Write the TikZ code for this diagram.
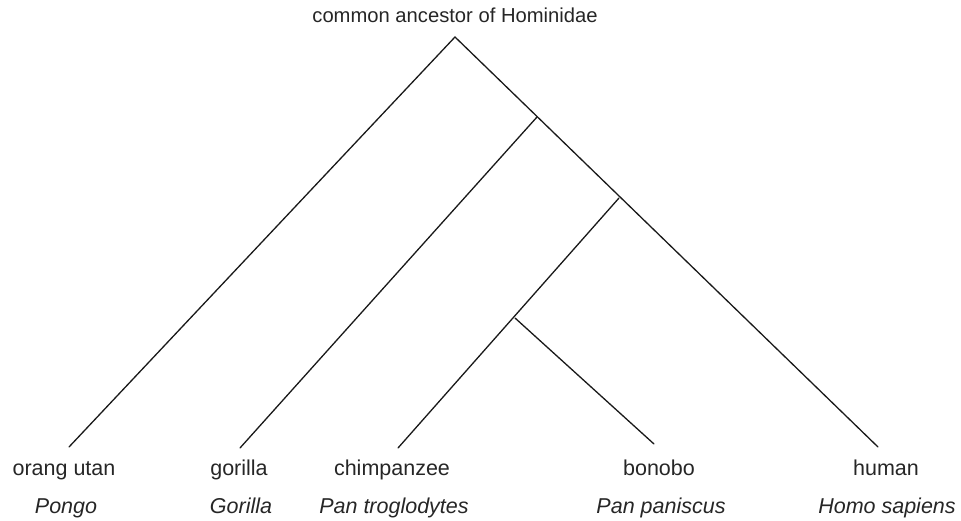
\documentclass[tikz,border=0pt]{standalone}
\usepackage{fontspec}
\setmainfont{Liberation Sans}
\usetikzlibrary{positioning}
\tikzset{branch/.style={line width=1.3pt,draw=black!90,line cap=round}}
\tikzset{taxon/.style={anchor=base,text=black!85,font=\fontsize{21.5}{25}\selectfont}}
\tikzset{latin/.style={taxon,font=\fontsize{21.5}{25}\selectfont\itshape}}

\begin{document}
\begin{tikzpicture}[x=1pt,y=-1pt]
        \useasboundingbox (0,0) rectangle (961,521);
        % ancestor and branch points
        \node[taxon,font=\fontsize{20.2}{24}\selectfont] (anc) at (455,23) {common ancestor of Hominidae};
        \coordinate (root) at (455,37);
        \coordinate (hpg) at (537,117);
        \coordinate (hp) at (619,198);
        \coordinate (pan) at (515,318);
        % tips
        \coordinate (tOrang) at (69,447);
        \coordinate (tGorilla) at (240,448);
        \coordinate (tChimp) at (398,448);
        \coordinate (tBonobo) at (654,444);
        \coordinate (tHuman) at (878,447);
        % names
        \node[taxon] (orang) at (64,475) {orang utan};
        \node[taxon] (gorilla) at (239,475) {gorilla};
        \node[taxon] (chimp) at (392,475) {chimpanzee};
        \node[taxon] (bonobo) at (659,475) {bonobo};
        \node[taxon] (human) at (886,475) {human};
        \node[latin] (pongo) at (66,513) {Pongo};
        \node[latin] (gorillaL) at (241,513) {Gorilla};
        \node[latin] (chimpL) at (394,513) {Pan troglodytes};
        \node[latin] (bonoboL) at (661,513) {Pan paniscus};
        \node[latin] (humanL) at (887,513) {Homo sapiens};
        % tree
        \draw[branch] (tOrang) -- (root) -- (tHuman);
        \draw[branch] (hpg) -- (tGorilla);
        \draw[branch] (hp) -- (tChimp);
        \draw[branch] (pan) -- (tBonobo);
\end{tikzpicture}
\end{document}
